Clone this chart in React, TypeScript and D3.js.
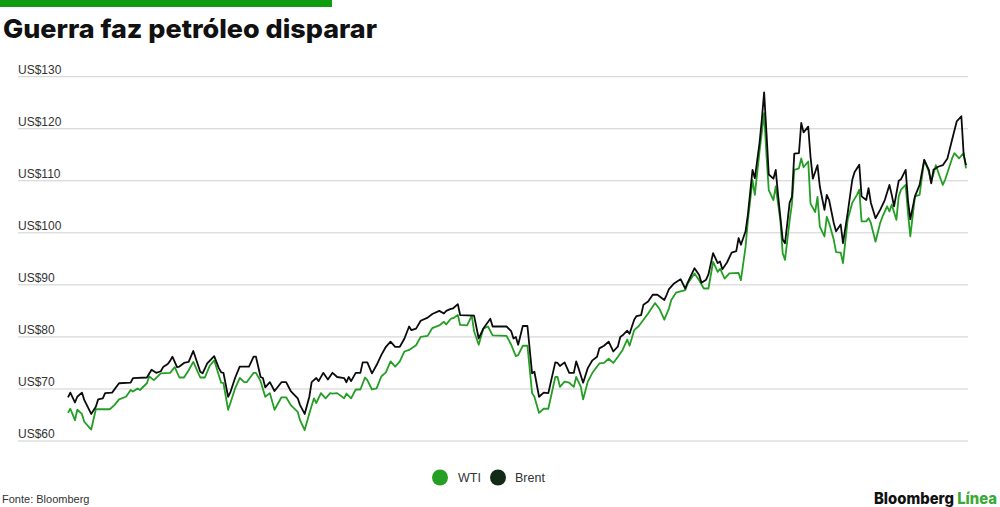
import { useMemo } from 'react';
import * as d3 from 'd3';

// days counted from the first observation, price in US$ per barrel
const startDate = new Date(2021, 4, 12);

const brentDays = [
  0, 1, 3, 4, 6, 7, 10, 12, 13, 15, 16, 19, 22, 27, 28, 34, 36, 38, 40, 41, 43, 44, 45, 47, 48, 50, 52, 54, 57, 58, 60,
  63, 65, 66, 67, 69, 70, 72, 74, 78, 80, 81, 83, 84, 85, 87, 89, 92, 94, 96, 99, 100, 102, 104, 105, 107, 108, 110, 112,
  114, 116, 119, 120, 121, 122, 124, 126, 127, 129, 131, 133, 135, 137, 139, 141, 143, 145, 147, 148, 150, 152, 155, 157,
  160, 162, 163, 165, 166, 168, 169, 175, 177, 179, 182, 183, 189, 191, 192, 193, 194, 196, 198, 200, 201, 203, 205, 207,
  210, 211, 212, 214, 216, 218, 219, 220, 222, 224, 226, 228, 229, 231, 233, 235, 237, 238, 239, 241, 242, 244, 245, 247,
  248, 250, 252, 254, 257, 258, 259, 261, 264, 266, 267, 270, 272, 273, 275, 276, 278, 280, 281, 282, 284, 286, 288, 289,
  290, 292, 293, 295, 296, 298, 299, 300, 301, 302, 304, 305, 306, 308, 309, 311, 312, 313, 315, 316, 317, 319, 320, 321,
  323, 324, 326, 327, 328, 330, 331, 333, 334, 336, 338, 339, 341, 342, 344, 345, 346, 348, 350, 352, 354, 355, 356, 358,
  359, 361, 362, 363, 365, 367, 369, 371, 372, 373, 375, 377, 379, 381, 383, 385, 386, 387,
];
const brentValues = [
  68.4, 69.3, 67.4, 68.5, 69.3, 67.9, 65.2, 66.6, 68.0, 68.2, 69.2, 69.3, 71.1, 71.2, 72.1, 72.2, 73.7, 73.1, 73.4, 74.2,
  74.8, 75.4, 76.2, 74.2, 74.3, 75.0, 75.2, 77.3, 73.3, 73.0, 74.9, 76.3, 74.0, 73.2, 73.1, 68.5, 69.4, 72.1, 74.3, 74.3,
  76.2, 76.2, 72.3, 72.1, 70.3, 71.3, 69.6, 71.3, 71.3, 69.6, 68.2, 66.9, 65.2, 68.5, 71.3, 72.1, 71.5, 73.1, 71.8, 73.1,
  72.3, 72.1, 71.3, 72.3, 71.5, 73.1, 73.1, 75.1, 75.1, 73.0, 74.6, 76.5, 78.1, 79.1, 78.1, 78.1, 79.7, 82.0, 81.3, 81.6,
  83.1, 83.7, 84.4, 85.0, 84.5, 85.0, 85.4, 85.5, 86.3, 84.2, 84.1, 79.7, 81.6, 83.5, 82.0, 82.0, 81.1, 79.7, 80.0, 78.5,
  82.1, 82.1, 73.0, 73.3, 68.5, 69.3, 69.2, 75.1, 75.0, 74.4, 75.1, 73.1, 73.1, 75.3, 74.0, 71.2, 74.0, 75.5, 76.2, 77.8,
  78.3, 79.1, 77.2, 78.2, 80.0, 80.3, 81.2, 80.6, 83.3, 84.0, 84.2, 86.2, 86.8, 88.1, 88.1, 87.1, 88.1, 89.2, 90.2, 91.1,
  89.3, 90.4, 93.2, 91.9, 90.4, 91.0, 92.0, 96.1, 94.2, 94.5, 93.0, 94.3, 96.2, 96.5, 99.0, 97.7, 100.3, 103.5, 112.1,
  110.5, 117.2, 121.7, 127.0, 119.3, 111.2, 110.4, 112.1, 107.3, 98.7, 98.0, 105.8, 106.9, 115.2, 115.3, 121.1, 119.3,
  120.4, 114.6, 110.4, 113.0, 108.9, 104.4, 107.3, 106.3, 101.9, 100.3, 101.6, 98.0, 103.8, 110.2, 111.7, 113.1, 107.0,
  106.3, 108.6, 105.8, 102.8, 104.4, 106.3, 109.2, 107.3, 105.1, 110.0, 110.3, 112.1, 106.2, 102.6, 107.0, 109.2, 114.0,
  112.1, 109.5, 112.1, 112.7, 113.0, 114.3, 117.9, 121.4, 122.4, 115.0, 113.0,
];

const wtiDays = [
  0, 1, 3, 4, 6, 7, 10, 12, 18, 20, 22, 25, 27, 28, 30, 31, 34, 35, 37, 40, 44, 46, 48, 50, 52, 54, 57, 59, 61, 63, 66,
  67, 69, 70, 72, 74, 76, 77, 80, 81, 83, 85, 87, 89, 92, 94, 96, 99, 100, 102, 104, 106, 107, 109, 111, 113, 114, 116,
  119, 120, 122, 124, 126, 128, 129, 131, 133, 135, 137, 139, 141, 143, 145, 147, 150, 152, 155, 157, 160, 162, 163, 165,
  166, 168, 169, 172, 174, 175, 177, 179, 181, 183, 189, 191, 193, 194, 196, 198, 200, 201, 203, 205, 207, 210, 211, 212,
  214, 216, 218, 219, 221, 222, 224, 226, 229, 231, 233, 235, 237, 239, 241, 242, 244, 246, 248, 250, 253, 255, 257, 259,
  260, 262, 266, 267, 270, 272, 274, 276, 278, 280, 281, 283, 285, 289, 290, 292, 293, 295, 296, 298, 300, 301, 302, 304,
  305, 307, 308, 309, 311, 312, 313, 315, 316, 317, 319, 320, 322, 323, 324, 326, 327, 328, 330, 331, 333, 334, 336, 338,
  340, 341, 342, 344, 345, 346, 348, 350, 351, 353, 354, 355, 357, 358, 359, 361, 362, 363, 365, 367, 369, 371, 372, 374,
  375, 377, 378, 381, 382, 384, 386, 387,
];
const wtiValues = [
  65.4, 66.2, 64.0, 66.0, 65.2, 63.7, 62.2, 66.1, 66.1, 66.9, 68.0, 68.5, 69.8, 69.5, 70.1, 69.8, 71.1, 72.4, 71.7, 73.0,
  73.1, 74.2, 72.2, 72.2, 73.6, 75.2, 72.2, 72.2, 74.4, 75.5, 71.2, 71.1, 66.0, 67.3, 70.1, 72.1, 71.3, 71.3, 73.1, 73.1,
  71.5, 68.5, 69.2, 66.0, 68.4, 68.4, 66.9, 65.6, 64.0, 62.1, 65.3, 68.2, 67.3, 69.2, 68.2, 69.2, 69.1, 69.2, 68.2, 69.1,
  68.2, 69.9, 69.9, 72.2, 71.7, 69.9, 70.1, 72.4, 73.2, 75.3, 74.3, 75.3, 77.2, 77.5, 78.4, 80.0, 80.2, 81.7, 82.2, 82.9,
  82.4, 83.5, 83.6, 84.2, 82.3, 82.2, 84.1, 81.1, 78.5, 81.6, 82.0, 80.3, 80.2, 78.5, 76.3, 76.5, 78.3, 78.3, 69.2, 68.5,
  65.4, 66.2, 66.2, 72.3, 72.3, 70.4, 71.4, 71.2, 70.4, 72.3, 70.4, 68.0, 71.4, 73.1, 74.9, 75.0, 75.8, 75.0, 76.2, 77.5,
  79.5, 78.3, 81.3, 82.1, 83.3, 84.5, 86.5, 85.3, 83.3, 85.5, 87.1, 88.5, 89.0, 90.2, 92.2, 90.9, 89.3, 89.3, 94.4, 92.5,
  93.1, 91.2, 92.2, 92.3, 90.9, 97.3, 102.4, 110.1, 107.3, 115.6, 123.0, 115.0, 108.2, 106.3, 108.9, 102.4, 96.1, 94.8,
  102.4, 105.6, 112.1, 112.4, 114.3, 112.6, 113.7, 105.6, 104.0, 106.9, 101.2, 99.3, 103.1, 101.9, 98.7, 96.3, 96.2, 94.2,
  102.5, 105.8, 107.3, 108.3, 102.2, 102.2, 102.8, 101.9, 98.3, 101.9, 103.1, 105.1, 104.1, 105.4, 102.5, 107.0, 108.3,
  109.2, 103.8, 99.3, 107.0, 107.3, 114.0, 111.7, 109.8, 113.0, 111.7, 109.2, 110.2, 114.3, 115.3, 114.3, 115.3, 112.4,
];

const yTicks = [60, 70, 80, 90, 100, 110, 120, 130];

const seriesNames = ['WTI', 'Brent'];
const seriesColors = ['#249e24', '#132a16'];

const width = 1000;
const height = 507;
const font = '"Liberation Sans", Arial, Helvetica, sans-serif';
const heavyFont = 'Inter, "Liberation Sans", Arial, sans-serif';

type Point = { date: Date; value: number };

function toPoints(days: number[], values: number[]): Point[] {
  return days.map((d, i) => ({ date: d3.timeDay.offset(startDate, d), value: values[i] }));
}

export default function App() {
  const wti = useMemo(() => toPoints(wtiDays, wtiValues), []);
  const brent = useMemo(() => toPoints(brentDays, brentValues), []);

  const x = d3
    .scaleTime()
    .domain([startDate, d3.timeDay.offset(startDate, 387)])
    .range([68, 966]);
  const y = d3.scaleLinear().domain([60, 130]).range([441, 76.7]);

  const line = d3
    .line<Point>()
    .x((d) => x(d.date))
    .y((d) => y(d.value));

  return (
    <svg
      width={width}
      height={height}
      viewBox={`0 0 ${width} ${height}`}
      style={{ position: 'absolute', left: 0, top: 0, background: '#fff' }}
    >
      <rect x={0} y={0} width={332} height={7} fill="#0f9d0f" />
      <text
        x={3}
        y={38}
        fontFamily={heavyFont}
        fontWeight={800}
        fontSize={26}
        fill="#111"
        textLength={374}
        lengthAdjust="spacingAndGlyphs"
      >
        Guerra faz petróleo disparar
      </text>

      {yTicks.map((t) => (
        <g key={t}>
          <line x1={18} x2={968} y1={y(t)} y2={y(t)} stroke="#cfcfcf" strokeWidth={1} />
          <text x={18} y={y(t) - 3} fontFamily={font} fontSize={12} fill="#333">
            {`US$${t}`}
          </text>
        </g>
      ))}

      <path d={line(wti) ?? ''} fill="none" stroke={seriesColors[0]} strokeWidth={1.8} strokeLinejoin="round" />
      <path d={line(brent) ?? ''} fill="none" stroke="#0c0c0c" strokeWidth={1.8} strokeLinejoin="round" />

      <g fontFamily={font} fontSize={12.5} fill="#333">
        <circle cx={440} cy={477.5} r={8} fill={seriesColors[0]} />
        <text x={458} y={482}>
          {seriesNames[0]}
        </text>
        <circle cx={498} cy={477.5} r={8} fill={seriesColors[1]} />
        <text x={515} y={482}>
          {seriesNames[1]}
        </text>
      </g>

      <text x={2} y={503} fontFamily={font} fontSize={11} fill="#333">
        Fonte: Bloomberg
      </text>
      <text
        x={874}
        y={504}
        fontFamily={heavyFont}
        fontWeight={800}
        fontSize={15.5}
        textLength={123}
        lengthAdjust="spacingAndGlyphs"
      >
        <tspan fill="#111">Bloomberg </tspan>
        <tspan fill="#3aa935">Línea</tspan>
      </text>
    </svg>
  );
}
